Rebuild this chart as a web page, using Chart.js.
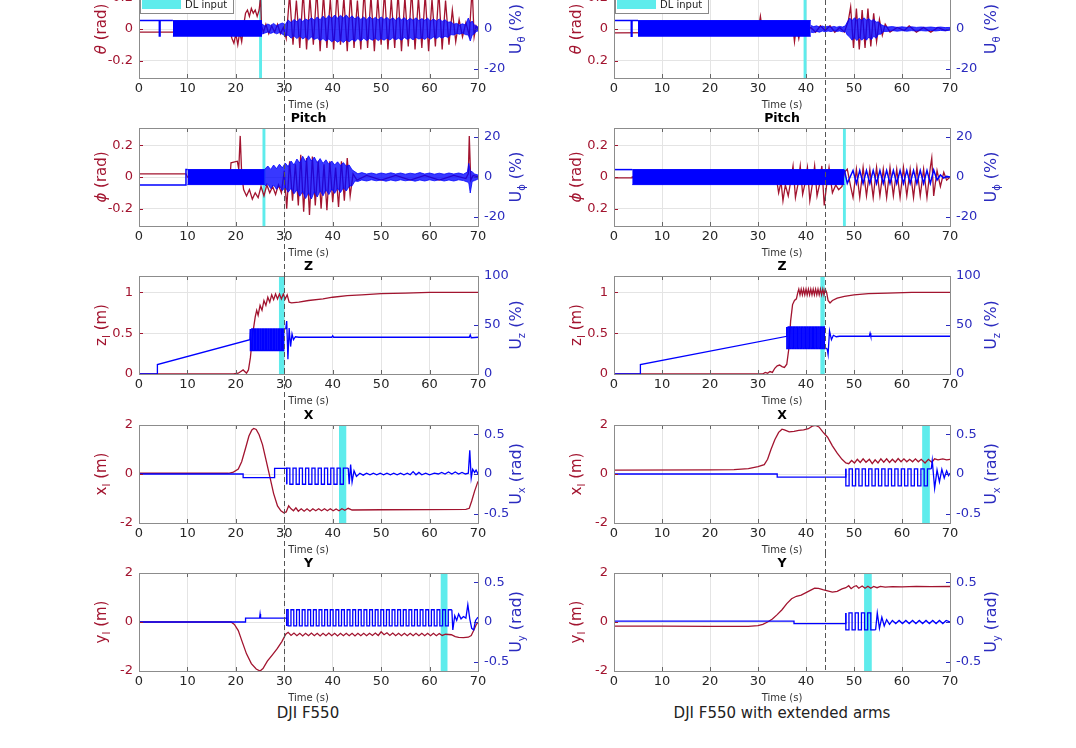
<!DOCTYPE html>
<html>
<head>
<meta charset="utf-8">
<script src="https://cdn.jsdelivr.net/npm/chart.js"></script>
<style>
  body { margin: 0; width: 1076px; height: 748px; overflow: hidden; background: #fff; position: relative; font-family: "DejaVu Sans", sans-serif; }
  canvas { position: absolute; }
  .cap { position: absolute; top: 703px; width: 400px; text-align: center; font: 15px "DejaVu Sans"; line-height: 20px; color: #222; }
</style>
</head>
<body>
<div class="cap" style="left:108px">DJI F550</div>
<div class="cap" style="left:582px">DJI F550 with extended arms</div>
<script>
// --- tick values / labels ---
const radTicks = [-0.2, 0, 0.2];
const radTextL = ['-0.2', '0', '0.2'];
const radTextR = ['0.2', '0', '0.2'];
const pctTicks = [-20, 0, 20];
const zTicks = [0, 0.5, 1];
const uzTicks = [0, 50, 100];
const posTicks = [-2, 0, 2];
const uposTicks = [-0.5, 0, 0.5];

// --- Roll (theta), rad / % ---
const rollRedL = [[0,-0.02],[18.8,-0.02],[19.2,-0.06],[19.6,-0.09],[20,-0.03],[20.4,-0.1],[20.8,-0.02],[21.2,-0.08],[21.6,0.02],[22,0.1],[22.4,0.12],[22.8,0.08],[23.2,0.13],[23.6,0.1],[24,0.12],[24.4,0.08],[24.8,0.12],[25.1,0.2],[25.3,0.02],[25.7,-0.02],[26.2,0.03],[26.8,-0.03],[27.4,0.02],[28,-0.02],[28.6,0.03],[29.2,-0.03],[29.8,0.01],[30.4,-0.06],[31.1,0.22],[31.8,-0.1],[32.5,0.18],[33.2,-0.12],[33.9,0.24],[34.6,-0.13],[35.3,0.2],[36,-0.1],[36.7,0.25],[37.4,-0.14],[38.1,0.22],[38.8,-0.12],[39.5,0.19],[40.2,-0.13],[40.9,0.24],[41.6,-0.1],[42.3,0.2],[43,-0.14],[43.7,0.23],[44.4,-0.12],[45.1,0.18],[45.8,-0.13],[46.5,0.25],[47.2,-0.12],[47.9,0.21],[48.6,-0.14],[49.3,0.2],[50,-0.1],[50.7,0.24],[51.4,-0.13],[52.1,0.19],[52.8,-0.12],[53.5,0.23],[54.2,-0.14],[54.9,0.2],[55.6,-0.11],[56.3,0.25],[57,-0.13],[57.7,0.2],[58.4,-0.12],[59.1,0.22],[59.8,-0.14],[60.5,0.19],[61.2,-0.11],[61.9,0.24],[62.6,-0.13],[63.3,0.18],[64,-0.1],[64.7,0.12],[65.4,-0.08],[66.1,0.06],[66.8,-0.05],[67.5,0.04],[68.2,-0.04],[68.8,0.26],[69.2,-0.05],[69.6,0.02],[70,0]];
const rollBlueL = [[0,4.2],[4.2,4.2],[4.2,-3.5],[4.35,-3.5],[4.35,4.2],[7,4.2]];
const rollBandL = [[7,4.2,-3.6],[25.4,4.2,-3.6]];
const rollOscL = [[25.4,2.5,-2.5],[26,1.5,-2],[26.6,2.5,-1.5],[27.2,1.8,-2.2],[27.8,2.8,-1.6],[28.4,1.6,-2.4],[29,2.4,-1.8],[29.6,3,-2.6],[30.2,2.2,-3.5],[30.8,4.5,-3],[31.4,3.2,-4.6],[32,4.8,-3.4],[32.6,3.6,-4.8],[33.2,5.2,-3.5],[33.8,3.8,-5],[34.4,5,-4],[35,4.2,-5.4],[35.6,5.6,-4],[36.2,4.4,-5.2],[36.8,6,-4.5],[37.4,4.6,-5.8],[38,6.4,-4.8],[38.6,5,-6],[39.2,6.8,-5],[39.8,5.2,-6.4],[40.4,7,-5.4],[41,5.4,-6.6],[41.6,6.8,-5.6],[42.2,5.6,-6.8],[42.8,7,-5.4],[43.4,5.2,-6.4],[44,6.6,-5.2],[44.6,5,-6.2],[45.2,6.2,-4.8],[45.8,4.8,-6],[46.4,6,-4.6],[47,4.6,-5.8],[47.6,6.2,-4.8],[48.2,4.8,-5.6],[48.8,5.8,-4.6],[49.4,4.6,-5.8],[50,6,-4.8],[50.6,4.8,-5.6],[51.2,5.8,-4.5],[51.8,4.5,-5.5],[52.4,5.6,-4.4],[53,4.4,-5.4],[53.6,5.8,-4.6],[54.2,4.6,-5.6],[54.8,5.6,-4.2],[55.4,4.2,-5.2],[56,5.4,-4.4],[56.6,4.4,-5.4],[57.2,5.6,-4.2],[57.8,4.2,-5],[58.4,5.2,-4.4],[59,4.4,-5.2],[59.6,5.4,-4],[60.2,4,-5],[60.8,5,-4],[61.4,4,-4.8],[62,5,-3.8],[62.6,3.8,-4.6],[63.2,4.6,-3.6],[63.8,3.4,-4.2],[64.4,3.6,-2.8],[65,2.4,-3],[65.6,2.8,-2.2],[66.2,2,-2.6],[66.8,2.6,-2],[67.4,2,-2.8],[68,5.5,-3],[68.4,3,-6],[68.8,4,-3],[69.2,2,-2.5],[69.6,1.5,-1.2],[70,1,-1]];

const rollRedR = [[0,-0.025],[30,-0.02],[30.5,0.08],[31,-0.03],[33,-0.01],[36,-0.03],[37.2,0.04],[37.6,-0.08],[38,0.02],[38.5,-0.06],[39,0.03],[40,-0.02],[41,0.01],[42,-0.02],[43,0.02],[44,-0.01],[45,0.02],[46,-0.02],[47,0.01],[48,-0.02],[48.8,0.05],[49.3,0.14],[49.9,-0.12],[50.5,0.13],[51.1,-0.13],[51.7,0.12],[52.3,-0.12],[52.9,0.13],[53.5,-0.11],[54.1,0.1],[54.7,-0.08],[55.3,0.06],[55.9,-0.04],[56.5,0.03],[57.5,-0.02],[59,0.01],[60.5,-0.01],[61.5,0.02],[63,-0.02],[64.5,0.01],[66,-0.02],[67.5,0.01],[69,-0.01],[70,0]];
const rollBlueR = [[0,4.2],[3.6,4.2],[3.6,-3.6],[3.75,-3.6],[3.75,4.2],[5,4.2]];
const rollBandR = [[5,4.2,-3.6],[41,4.2,-3.6]];
const rollOscR = [[41,1.8,-1.6],[41.6,1.2,-1.8],[42.2,1.6,-1.2],[42.8,1,-1.6],[43.4,1.5,-1],[44,1,-1.4],[44.6,1.4,-1],[45.2,0.9,-1.3],[45.8,1.3,-0.9],[46.4,0.9,-1.2],[47,1.3,-1],[47.6,1,-1.4],[48.2,1.6,-1.2],[48.6,3.5,-3],[49.1,5.5,-4],[49.6,4.2,-5.6],[50.1,5.6,-4.4],[50.6,4.4,-5.8],[51.1,5.4,-4.2],[51.6,4.2,-5.6],[52.1,5.6,-4.4],[52.6,4.4,-5.6],[53.1,5.2,-4],[53.6,4,-5.4],[54.1,4.8,-3.6],[54.6,3.4,-4.6],[55.1,3.6,-2.6],[55.6,2.2,-2.6],[56.2,1.6,-1.2],[57,1,-1.2],[58,1.2,-0.8],[59,0.8,-1.1],[60,1.1,-0.8],[61,0.8,-1.1],[62,1.1,-0.8],[63,0.8,-1],[64,1,-0.8],[65,0.8,-1],[66,1,-0.7],[67,0.7,-1],[68,1,-0.7],[69,0.7,-0.9],[70,0.8,-0.6]];

// --- Pitch (phi) ---
const pitchRedL = [[0,0.02],[9.7,0.02],[10,0],[18.8,0],[19,0.09],[20.3,0.1],[20.6,0.05],[20.9,0.26],[21.2,0.02],[21.6,-0.08],[22.2,-0.12],[22.8,-0.08],[23.4,-0.14],[24,-0.1],[24.6,-0.13],[25.2,-0.06],[25.8,-0.12],[26.4,-0.05],[27,-0.1],[27.6,-0.06],[28.2,-0.11],[28.8,-0.05],[29.4,-0.1],[30,0.04],[30.5,-0.2],[31.1,0.1],[31.7,-0.15],[32.3,0.08],[32.9,-0.18],[33.4,0.14],[34,-0.22],[34.6,0.12],[35.2,-0.24],[35.8,0.13],[36.4,-0.18],[37,0.1],[37.6,-0.2],[38.2,0.08],[38.8,-0.21],[39.4,0.1],[40,-0.16],[40.6,0.06],[41.2,-0.19],[41.8,0.1],[42.4,-0.15],[43,0.12],[43.6,-0.12],[44.2,0.02],[45,-0.02],[47,0.01],[50,-0.02],[53,0.01],[56,-0.02],[59,0.01],[62,-0.02],[65,0.01],[67.5,-0.01],[68,0.02],[68.2,0.26],[68.5,-0.02],[69,0.01],[70,0]];
const pitchBlueL = [[0,-4],[9.7,-4],[9.7,3.7],[10,3.7]];
const pitchBandL = [[10,3.7,-3.8],[26,3.7,-3.8]];
const pitchOscL = [[26,4,-4.5],[26.6,5.5,-3.5],[27.2,3.8,-5.8],[27.8,6,-4],[28.4,4.2,-6.2],[29,6.4,-4.4],[29.6,4.6,-6.8],[30.2,7,-5],[30.8,5.2,-7.6],[31.4,8,-5.6],[32,6,-8.4],[32.6,9,-6.4],[33.2,7,-9.6],[33.8,10.4,-7.2],[34.4,7.6,-10.8],[35,10.6,-7.8],[35.6,8,-11],[36.2,10,-7.4],[36.8,7.2,-10],[37.4,9.2,-6.8],[38,6.8,-9.4],[38.6,8.6,-6.4],[39.2,6.4,-8.8],[39.8,8,-6],[40.4,6,-8.2],[41,7.6,-5.6],[41.6,5.8,-7.8],[42.2,7.2,-5.4],[42.8,5.4,-7],[43.4,6,-4.6],[44,3.6,-4.4],[44.6,2.6,-2],[45.2,1.6,-2.2],[46,2.2,-1.5],[47,1.5,-2],[48,2,-1.4],[49,1.4,-1.9],[50,2,-1.5],[51,1.5,-2.1],[52,2.1,-1.5],[53,1.5,-2],[54,2,-1.4],[55,1.4,-1.9],[56,1.9,-1.5],[57,1.5,-2.1],[58,2.2,-1.5],[59,1.5,-2],[60,2,-1.4],[61,1.4,-1.9],[62,1.9,-1.4],[63,1.4,-2],[64,2,-1.5],[65,1.5,-2],[66,2,-1.4],[67,1.4,-1.8],[67.8,2.5,-2.5],[68.1,6.8,-3],[68.4,3,-8],[68.8,2.6,-2.2],[69.3,1.5,-1.8],[70,1,-1]];

const pitchRedR = [[0,-0.005],[3.8,-0.005],[3.8,0],[33.8,0],[34.3,-0.1],[34.8,-0.03],[35.2,-0.15],[35.7,-0.05],[36.3,-0.12],[36.8,-0.03],[37.3,0.07],[37.8,-0.13],[38.3,-0.05],[38.8,0.07],[39.3,-0.11],[39.8,-0.04],[40.3,0.06],[40.8,-0.15],[41.3,-0.05],[41.8,0.07],[42.3,-0.12],[42.8,-0.05],[43.3,0.07],[43.8,-0.18],[44.3,-0.05],[44.8,0.06],[45.5,-0.1],[46.2,-0.05],[46.8,-0.08],[47.5,-0.06],[48,0.03],[48.6,0.05],[49.3,-0.06],[49.8,-0.13],[50.5,0.05],[51.2,-0.13],[51.9,0.06],[52.6,-0.12],[53.3,0.05],[54,-0.13],[54.7,0.06],[55.4,-0.12],[56.1,0.05],[56.8,-0.13],[57.5,0.06],[58.2,-0.12],[58.9,0.05],[59.6,-0.13],[60.3,0.06],[61,-0.12],[61.7,0.05],[62.4,-0.13],[63.1,0.06],[63.8,-0.12],[64.5,0.05],[65.2,-0.13],[65.9,0.06],[66.2,0.12],[66.6,-0.12],[67.3,0.04],[68,-0.06],[68.7,0.03],[69.3,-0.02],[70,0]];
const pitchBlueR = [[0,3.7],[3.8,3.7]];
const pitchBandR = [[3.8,3.7,-3.8],[48,3.7,-3.8]];
const pitchWaveR = [[48,3.5],[48.6,-3.2],[49.8,3.3],[50.5,-3.2],[51.2,3.3],[51.9,-3.2],[52.6,3.3],[53.3,-3.2],[54,3.3],[54.7,-3.2],[55.4,3.3],[56.1,-3.2],[56.8,3.3],[57.5,-3.2],[58.2,3.3],[58.9,-3.2],[59.6,3.3],[60.3,-3.2],[61,3.3],[61.7,-3.2],[62.4,3.3],[63.1,-3.2],[63.8,3.3],[64.5,-3.2],[65.2,3.3],[65.9,-3.2],[66.6,3.5],[67.3,-1.5],[68,1],[68.7,-0.5],[69.3,0.3],[70,0]];

// --- Z, m / % ---
const zRedL = [[0,0],[19.5,0],[20.5,0.01],[21.5,0.05],[22.2,0.01],[22.6,0.05],[23,0.2],[23.5,0.5],[24,0.7],[24.3,0.78],[24.6,0.72],[25,0.84],[25.4,0.78],[25.8,0.9],[26.2,0.84],[26.6,0.94],[27,0.88],[27.4,0.97],[27.8,0.91],[28.2,0.98],[28.6,0.92],[29,0.98],[29.4,0.92],[29.8,0.98],[30.2,0.92],[30.6,0.97],[31,0.88],[31.5,0.87],[33,0.88],[35,0.9],[38,0.92],[40,0.94],[43,0.96],[46,0.97],[50,0.985],[55,0.99],[60,1.0],[65,1.0],[70,1.0]];
const zRampL = [[0,0],[3.8,0],[3.8,9.6],[22.9,35],[23,46]];
const zSqL = [[23,46],[23.28,24],[23.55,46],[23.83,24],[24.1,46],[24.38,24],[24.65,46],[24.93,24],[25.2,46],[25.48,24],[25.75,46],[26.03,24],[26.3,46],[26.58,24],[26.85,46],[27.13,24],[27.4,46],[27.68,24],[27.95,46],[28.23,24],[28.5,46],[28.78,24],[29.05,46],[29.33,24],[29.6,46],[29.88,24],[30.15,46],[30.3,46]];
const zRingL = [[30.3,46],[30.5,54],[30.75,15],[31,47],[31.3,28],[31.6,41],[31.9,35],[32.3,38],[33,37.5],[39.8,37.5],[40,39],[40.2,37.5],[68.2,37.5],[68.4,40],[68.6,37],[70,37.5]];

const zRedR = [[0,0],[31,0],[31.5,0.02],[32,0.01],[32.5,0.03],[33,0.02],[33.5,0.07],[34,0.1],[34.5,0.11],[35,0.09],[35.5,0.08],[36,0.12],[36.4,0.3],[36.8,0.65],[37.2,0.85],[37.6,0.9],[38,0.92],[38.3,1.0],[38.5,1.04],[38.75,0.97],[39,1.04],[39.25,0.97],[39.5,1.04],[39.75,0.97],[40,1.04],[40.25,0.97],[40.5,1.04],[40.75,0.97],[41,1.04],[41.25,0.97],[41.5,1.04],[41.75,0.97],[42,1.04],[42.25,0.97],[42.5,1.04],[42.75,0.97],[43,1.04],[43.25,0.97],[43.5,1.04],[43.75,0.97],[44,1.04],[44.3,1.0],[44.6,0.9],[45,0.87],[45.5,0.9],[46.5,0.93],[48,0.95],[50,0.97],[53,0.985],[57,0.99],[62,1.0],[70,1.0]];
const zRampR = [[0,0],[5.5,0],[5.5,9.6],[36,38.5],[36,48]];
const zSqR = [[36,48],[36.28,26],[36.56,48],[36.84,26],[37.12,48],[37.4,26],[37.68,48],[37.96,26],[38.24,48],[38.52,26],[38.8,48],[39.08,26],[39.36,48],[39.64,26],[39.92,48],[40.2,26],[40.48,48],[40.76,26],[41.04,48],[41.32,26],[41.6,48],[41.88,26],[42.16,48],[42.44,26],[42.72,48],[43,26],[43.28,48],[43.56,26],[43.84,48],[44.12,26],[44.4,26]];
const zRingR = [[44.4,26],[44.6,20],[44.9,44],[45.3,35],[45.7,39.5],[46.3,38],[47,38.5],[53.2,38.5],[53.35,41.5],[53.5,38.5],[70,38.5]];

// --- X, m / rad ---
const xRedL = [[0,0.03],[18.5,0.03],[19.5,0.08],[20.5,0.2],[21.2,0.5],[22,1.05],[22.7,1.55],[23.3,1.8],[23.7,1.86],[24.2,1.82],[24.8,1.6],[25.5,1.2],[26.2,0.6],[27,-0.1],[27.8,-0.8],[28.6,-1.3],[29.3,-1.5],[29.9,-1.58],[30.4,-1.55],[30.9,-1.3],[31.4,-1.42],[31.9,-1.5],[32.4,-1.38],[32.9,-1.52],[33.5,-1.42],[34.1,-1.52],[34.7,-1.42],[35.3,-1.52],[35.9,-1.42],[36.5,-1.5],[37.1,-1.42],[37.7,-1.5],[38.3,-1.42],[38.9,-1.5],[39.5,-1.42],[40.1,-1.5],[40.7,-1.43],[41.3,-1.5],[41.9,-1.42],[42.5,-1.48],[43.2,-1.4],[44,-1.47],[50,-1.46],[60,-1.45],[67.5,-1.44],[68.2,-1.4],[68.7,-1.1],[69.3,-0.7],[70,-0.3]];
const xBlueL = [[0,0],[21.5,0],[21.5,-0.045],[28,-0.045],[28,0.07],[30.5,0.07],[30.5,-0.13]];
const xSqL = [[30.5,-0.13],[31.15,0.075],[31.8,-0.13],[32.45,0.075],[33.1,-0.13],[33.75,0.075],[34.4,-0.13],[35.05,0.075],[35.7,-0.13],[36.35,0.075],[37,-0.13],[37.65,0.075],[38.3,-0.13],[38.95,0.075],[39.6,-0.13],[40.25,0.075],[40.9,-0.13],[41.55,0.075],[42.2,-0.13],[42.85,0.075],[43.2,0.075]];
const xRingL = [[43.2,0.075],[43.4,-0.13],[43.7,0.12],[44,-0.1],[44.4,0.04],[44.9,-0.03],[45.6,0.01],[46.3,-0.015],[47,0.01],[47.7,-0.01],[48.4,0.01],[49.1,-0.01],[49.8,0.01],[50.5,-0.01],[51.2,0.01],[51.9,-0.01],[52.6,0.01],[53.3,-0.01],[54,0.01],[54.7,-0.01],[55.4,0.01],[56,-0.01],[56.6,0.03],[57.2,-0.01],[57.8,0.02],[58.4,-0.01],[59.2,0.01],[60,-0.01],[61,0.01],[61.8,0],[62.5,0.02],[63.2,0],[63.9,0.025],[64.6,0],[65.3,0.025],[66,0],[66.7,0.02],[67.4,0],[68,0.01],[68.3,0.3],[68.6,-0.05],[68.9,0.06],[69.3,0.02],[69.6,0.05],[70,0]];

const xRedR = [[0,0.16],[20,0.17],[25,0.18],[28,0.22],[30,0.3],[31.3,0.38],[32,0.6],[32.7,1.0],[33.5,1.4],[34.3,1.7],[35,1.83],[35.5,1.8],[36.5,1.72],[37.5,1.74],[38.5,1.78],[39.5,1.8],[40.5,1.85],[41.3,1.95],[42,1.98],[42.7,1.92],[43.5,1.72],[44.5,1.5],[45.5,1.15],[46.5,0.85],[47.5,0.6],[48.3,0.45],[48.9,0.42],[49.5,0.55],[50.1,0.45],[50.7,0.6],[51.3,0.47],[51.9,0.62],[52.5,0.48],[53.2,0.6],[53.8,0.42],[54.4,0.58],[55,0.45],[55.6,0.62],[56.2,0.48],[56.8,0.62],[57.4,0.47],[58,0.6],[58.6,0.48],[59.2,0.63],[59.8,0.5],[60.4,0.62],[61,0.5],[61.6,0.6],[62.2,0.5],[62.8,0.62],[63.4,0.5],[64,0.6],[64.8,0.45],[65.5,0.6],[66.2,0.48],[66.8,0.62],[67.5,0.58],[68.5,0.62],[69.3,0.58],[70,0.6]];
const xBlueR = [[0,0],[34,0],[34,-0.04],[48.3,-0.04],[48.3,0.065]];
const xSqR = [[48.3,0.065],[48.98,-0.15],[49.66,0.065],[50.34,-0.15],[51.02,0.065],[51.7,-0.15],[52.38,0.065],[53.06,-0.15],[53.74,0.065],[54.42,-0.15],[55.1,0.065],[55.78,-0.15],[56.46,0.065],[57.14,-0.15],[57.82,0.065],[58.5,-0.15],[59.18,0.065],[59.86,-0.15],[60.54,0.065],[61.22,-0.15],[61.9,0.065],[62.58,-0.15],[63.26,0.065],[63.94,-0.15],[64.62,0.065],[65.3,-0.15],[65.98,0.065],[66.1,0.065]];
const xRingR = [[66.1,0.065],[66.3,0.17],[66.8,-0.18],[67.3,0.05],[67.8,-0.1],[68.3,0.06],[68.8,-0.05],[69.3,0.04],[69.7,-0.02],[70,0.01]];

// --- Y, m / rad ---
const yRedL = [[0,0],[19,0],[19.7,-0.1],[20.5,-0.35],[21.3,-0.8],[22.2,-1.3],[23.2,-1.7],[24.2,-1.92],[25,-2.0],[25.6,-1.9],[26.5,-1.6],[27.5,-1.35],[28.5,-1.1],[29.5,-0.8],[30.3,-0.5],[30.8,-0.42],[31.4,-0.55],[32,-0.45],[32.6,-0.56],[33.2,-0.46],[33.8,-0.57],[34.4,-0.46],[35,-0.56],[35.6,-0.45],[36.2,-0.56],[36.8,-0.46],[37.4,-0.57],[38,-0.46],[38.6,-0.56],[39.2,-0.45],[39.8,-0.56],[40.4,-0.46],[41,-0.57],[41.6,-0.46],[42.2,-0.56],[42.8,-0.46],[43.4,-0.56],[44,-0.46],[44.6,-0.57],[45.2,-0.46],[45.8,-0.56],[46.4,-0.46],[47,-0.56],[47.6,-0.46],[48.2,-0.55],[48.8,-0.45],[49.4,-0.55],[50,-0.4],[50.6,-0.52],[51.2,-0.44],[51.8,-0.55],[52.4,-0.45],[53,-0.56],[53.6,-0.46],[54.2,-0.56],[54.8,-0.46],[55.4,-0.56],[56,-0.46],[56.6,-0.56],[57.2,-0.46],[57.8,-0.56],[58.4,-0.46],[59,-0.56],[59.6,-0.46],[60.2,-0.56],[60.8,-0.46],[61.4,-0.56],[62,-0.47],[62.6,-0.55],[63.3,-0.5],[64.5,-0.52],[65.3,-0.6],[66,-0.63],[67,-0.64],[68,-0.62],[68.6,-0.55],[69.1,-0.35],[69.6,-0.12],[70,0]];
const yBlueL = [[0,0],[22,0],[22,0.05],[24.9,0.05],[25,0.1],[25.1,0.05],[30.5,0.05],[30.5,-0.05]];
const ySqL = [[30.5,-0.05],[30.8,0.155],[31.38,-0.05],[31.96,0.155],[32.54,-0.05],[33.12,0.155],[33.7,-0.05],[34.28,0.155],[34.86,-0.05],[35.44,0.155],[36.02,-0.05],[36.6,0.155],[37.18,-0.05],[37.76,0.155],[38.34,-0.05],[38.92,0.155],[39.5,-0.05],[40.08,0.155],[40.66,-0.05],[41.24,0.155],[41.82,-0.05],[42.4,0.155],[42.98,-0.05],[43.56,0.155],[44.14,-0.05],[44.72,0.155],[45.3,-0.05],[45.88,0.155],[46.46,-0.05],[47.04,0.155],[47.62,-0.05],[48.2,0.155],[48.78,-0.05],[49.36,0.155],[49.94,-0.05],[50.52,0.155],[51.1,-0.05],[51.68,0.155],[52.26,-0.05],[52.84,0.155],[53.42,-0.05],[54,0.155],[54.58,-0.05],[55.16,0.155],[55.74,-0.05],[56.32,0.155],[56.9,-0.05],[57.48,0.155],[58.06,-0.05],[58.64,0.155],[59.22,-0.05],[59.8,0.155],[60.38,-0.05],[60.96,0.155],[61.54,-0.05],[62.12,0.155],[62.7,-0.05],[63.28,0.155],[63.86,-0.05],[64.44,0.155],[64.6,0.155]];
const yRingL = [[64.6,0.155],[64.8,-0.1],[65.2,0.08],[65.6,0.02],[66,0.1],[66.5,0.04],[67,0.07],[67.5,0.05],[67.9,0.22],[68.3,0.04],[68.7,-0.08],[69.1,-0.1],[69.5,0.02],[70,0.06]];

const yRedR = [[0,-0.17],[10,-0.17],[20,-0.18],[28,-0.18],[30,-0.15],[31,-0.1],[32,0.0],[33,0.12],[34,0.3],[35,0.5],[36,0.75],[37,0.95],[38,1.05],[39,1.1],[40,1.2],[41,1.3],[41.8,1.38],[42.6,1.37],[43.5,1.32],[44.5,1.27],[45.5,1.22],[46.5,1.25],[47.5,1.35],[48.3,1.4],[48.9,1.48],[49.4,1.36],[50,1.45],[50.5,1.48],[51,1.38],[51.7,1.47],[52.3,1.38],[52.9,1.46],[53.5,1.38],[54.1,1.45],[54.8,1.4],[55.5,1.45],[56.5,1.42],[58,1.44],[60,1.43],[63,1.45],[66,1.44],[70,1.45]];
const yBlueR = [[0,0.01],[37.5,0.01],[37.5,-0.02],[48.3,-0.02],[48.3,0.115]];
const ySqR = [[48.3,0.115],[48.95,-0.1],[49.6,0.115],[50.25,-0.1],[50.9,0.115],[51.55,-0.1],[52.2,0.115],[52.85,-0.1],[53.5,0.115],[54.15,-0.1],[54.5,-0.1]];
const yRingR = [[54.5,-0.1],[54.85,0.115],[55.3,-0.08],[55.8,0.06],[56.3,-0.05],[56.8,0.03],[57.4,-0.03],[58,0.02],[58.7,-0.02],[59.4,0.02],[60.1,-0.02],[60.8,0.02],[61.5,-0.02],[62.2,0.02],[62.9,-0.02],[63.6,0.02],[64.3,-0.02],[65,0.02],[65.7,-0.02],[66.4,0.02],[67.1,-0.02],[67.8,0.02],[68.5,-0.02],[69.2,0.02],[70,0]];

// DL input windows (s) and the dashed marker per column
const dlInputL = [[24.8,25.4],[25.5,26.1],[28.9,30.0],[41.3,42.8],[62.3,63.7]];
const dlInputR = [[39.5,40.1],[47.7,48.3],[43.0,43.9],[64.2,65.8],[52.1,53.7]];
const markerT = [30, 44];

// ---------------------------------------------------------------
const RED = '#a2142f';
const BLUE = '#0000ff';
const BTICK = '#2b2bbf';
const GRID = '#e4e4e4';
const BOX = '#8c8c8c';
const CYAN = '#5eecec';
const OSC = 'rgba(0,0,255,0.78)';
const FONT = '"DejaVu Sans"';

Chart.defaults.font.family = FONT;

const cols = [{left: 80, wL: 59, wR: 82, rOff: 39}, {left: 556, wL: 58, wR: 86, rOff: 42}];
const plotTops = [-20, 128, 276, 425, 573];

const rowDefs = [
  {title: 'Roll', yL: [-0.31, 0.31], tL: radTicks, yR: [-24.5, 24.5], tR: pctTicks,
   labL: [['θ', 'i'], [' (rad)']], labR: [['U'], ['θ', 'sub'], [' (%)']]},
  {title: 'Pitch', yL: [-0.31, 0.31], tL: radTicks, yR: [-24.5, 24.5], tR: pctTicks,
   labL: [['ϕ', 'i'], [' (rad)']], labR: [['U'], ['ϕ', 'sub'], [' (%)']]},
  {title: 'Z', yL: [0, 1.2], tL: zTicks, yR: [0, 100], tR: uzTicks,
   labL: [['z'], ['I', 'sub'], [' (m)']], labR: [['U'], ['z', 'sub'], [' (%)']]},
  {title: 'X', yL: [-2, 2], tL: posTicks, yR: [-0.62, 0.62], tR: uposTicks,
   labL: [['x'], ['I', 'sub'], [' (m)']], labR: [['U'], ['x', 'sub'], [' (rad)']]},
  {title: 'Y', yL: [-2, 2], tL: posTicks, yR: [-0.62, 0.62], tR: uposTicks,
   labL: [['y'], ['I', 'sub'], [' (m)']], labR: [['U'], ['y', 'sub'], [' (rad)']]}
];

// series per panel [col][row]
const series = [
  [
    {red: rollRedL, lines: [rollBlueL], steps: [], bands: [[rollBandL, BLUE], [rollOscL, OSC]], textL: radTextL},
    {red: pitchRedL, lines: [pitchBlueL], steps: [], bands: [[pitchBandL, BLUE], [pitchOscL, OSC]], textL: radTextL},
    {red: zRedL, lines: [zRampL, zRingL], steps: [zSqL], bands: []},
    {red: xRedL, lines: [xBlueL, xRingL], steps: [xSqL], bands: []},
    {red: yRedL, lines: [yBlueL, yRingL], steps: [ySqL], bands: []}
  ],
  [
    {red: rollRedR, lines: [rollBlueR], steps: [], bands: [[rollBandR, BLUE], [rollOscR, OSC]], textL: radTextR},
    {red: pitchRedR, lines: [pitchBlueR, pitchWaveR], steps: [], bands: [[pitchBandR, BLUE]], textL: radTextR},
    {red: zRedR, lines: [zRampR, zRingR], steps: [zSqR], bands: []},
    {red: xRedR, lines: [xBlueR, xRingR], steps: [xSqR], bands: []},
    {red: yRedR, lines: [yBlueR, yRingR], steps: [ySqR], bands: []}
  ]
];

function pts(a) { return a.map(p => ({x: p[0], y: p[1]})); }

// rotated axis label with optional italic / subscript parts
function drawAxisLabel(ctx, x, y, parts, color, size) {
  ctx.save();
  ctx.translate(x, y);
  ctx.rotate(-Math.PI / 2);
  ctx.fillStyle = color;
  ctx.textBaseline = 'middle';
  ctx.textAlign = 'left';
  const fonts = parts.map(pt => {
    if (pt[1] === 'sub') return Math.round(size * 0.65) + 'px ' + FONT;
    if (pt[1] === 'i') return 'italic ' + size + 'px ' + FONT;
    return size + 'px ' + FONT;
  });
  let w = 0;
  parts.forEach((pt, i) => { ctx.font = fonts[i]; w += ctx.measureText(pt[0]).width; });
  let cx = -w / 2;
  parts.forEach((pt, i) => {
    ctx.font = fonts[i];
    ctx.fillText(pt[0], cx, pt[1] === 'sub' ? size * 0.35 : 0);
    cx += ctx.measureText(pt[0]).width;
  });
  ctx.restore();
}

function makeDecor(c, r) {
  const def = rowDefs[r];
  const dl = (c === 0 ? dlInputL : dlInputR)[r];
  return {
    id: 'decor',
    beforeDatasetsDraw(chart) {
      const {ctx, chartArea: a, scales} = chart;
      const x0 = scales.x.getPixelForValue(dl[0]);
      const x1 = scales.x.getPixelForValue(dl[1]);
      ctx.save();
      ctx.fillStyle = CYAN;
      ctx.fillRect(x0, a.top, Math.max(x1 - x0, 2), a.bottom - a.top);
      ctx.restore();
    },
    afterDatasetsDraw(chart) {
      const {ctx, chartArea: a, scales} = chart;
      ctx.save();
      // tick marks (inward)
      ctx.lineWidth = 1;
      ctx.strokeStyle = '#666';
      scales.x.ticks.forEach(t => {
        const px = Math.round(scales.x.getPixelForValue(t.value)) + 0.5;
        ctx.beginPath();
        ctx.moveTo(px, a.bottom); ctx.lineTo(px, a.bottom - 4);
        ctx.moveTo(px, a.top); ctx.lineTo(px, a.top + 4);
        ctx.stroke();
      });
      ctx.strokeStyle = RED;
      scales.yL.ticks.forEach(t => {
        const py = Math.round(scales.yL.getPixelForValue(t.value)) + 0.5;
        ctx.beginPath(); ctx.moveTo(a.left, py); ctx.lineTo(a.left + 4, py); ctx.stroke();
      });
      ctx.strokeStyle = BTICK;
      scales.yR.ticks.forEach(t => {
        const py = Math.round(scales.yR.getPixelForValue(t.value)) + 0.5;
        ctx.beginPath(); ctx.moveTo(a.right, py); ctx.lineTo(a.right - 4, py); ctx.stroke();
      });
      // box
      ctx.strokeStyle = BOX;
      ctx.strokeRect(Math.round(a.left) + 0.5, Math.round(a.top) + 0.5,
        Math.round(a.right - a.left), Math.round(a.bottom - a.top));
      // dashed marker line
      const dx = Math.round(scales.x.getPixelForValue(markerT[c])) + 0.5;
      ctx.strokeStyle = '#555';
      ctx.setLineDash([5, 3]);
      ctx.beginPath();
      ctx.moveTo(dx, 0);
      ctx.lineTo(dx, r === 4 ? a.bottom : chart.height);
      ctx.stroke();
      ctx.setLineDash([]);
      // panel title
      ctx.fillStyle = '#000';
      ctx.font = 'bold 12.5px ' + FONT;
      ctx.textAlign = 'center';
      ctx.textBaseline = 'middle';
      ctx.fillText(def.title, (a.left + a.right) / 2, a.top - 9);
      // legend
      if (r === 0) {
        ctx.fillStyle = '#fff';
        ctx.fillRect(a.left + 1, a.top + 2, 93, 31);
        ctx.strokeStyle = '#888';
        ctx.strokeRect(a.left + 1.5, a.top + 2.5, 93, 31);
        ctx.fillStyle = CYAN;
        ctx.fillRect(a.left + 3, a.top + 20, 39, 9);
        ctx.fillStyle = '#222';
        ctx.font = '10px ' + FONT;
        ctx.textAlign = 'left';
        ctx.fillText('DL input', a.left + 46, a.top + 25);
      }
      // axis titles
      const cy = (a.top + a.bottom) / 2;
      drawAxisLabel(ctx, a.left - 37, cy, def.labL, RED, 15);
      drawAxisLabel(ctx, a.right + cols[c].rOff, cy, def.labR, BTICK, 16);
      ctx.restore();
    }
  };
}

function makePanel(c, r) {
  const col = cols[c];
  const def = rowDefs[r];
  const s = series[c][r];
  const canvas = document.createElement('canvas');
  canvas.width = 480;
  canvas.height = 151;
  canvas.style.left = col.left + 'px';
  canvas.style.top = (plotTops[r] - 20) + 'px';
  document.body.appendChild(canvas);

  const bw = r < 2 ? 1.5 : 1.3;
  const datasets = [];
  s.lines.forEach(a => datasets.push({data: pts(a), yAxisID: 'yR', borderColor: BLUE, borderWidth: bw}));
  s.steps.forEach(a => datasets.push({data: pts(a), yAxisID: 'yR', borderColor: BLUE, borderWidth: bw, stepped: 'after'}));
  s.bands.forEach(([b, colr]) => {
    datasets.push({data: b.map(q => ({x: q[0], y: q[1]})), yAxisID: 'yR', borderColor: colr, backgroundColor: colr, borderWidth: 1, fill: '+1'});
    datasets.push({data: b.map(q => ({x: q[0], y: q[2]})), yAxisID: 'yR', borderColor: colr, borderWidth: 1, fill: false});
  });
  datasets.push({data: pts(s.red), yAxisID: 'yL', borderColor: RED, borderWidth: 1.3});

  const textL = s.textL || def.tL.map(v => String(v));

  new Chart(canvas, {
    type: 'line',
    data: {datasets},
    options: {
      responsive: false,
      animation: false,
      events: [],
      layout: {padding: {top: 20, left: 0, right: 0, bottom: 0}},
      elements: {point: {radius: 0}, line: {tension: 0}},
      plugins: {legend: {display: false}, tooltip: {enabled: false}},
      scales: {
        x: {
          type: 'linear', position: 'bottom', min: 0, max: 70,
          ticks: {stepSize: 10, color: '#262626', font: {size: 13}, padding: 3, maxRotation: 0, autoSkip: false},
          grid: {color: GRID, drawTicks: false},
          border: {display: false},
          title: {display: true, text: 'Time (s)', color: '#333', font: {size: 10}, padding: {top: 0, bottom: 0}},
          afterFit: sc => { sc.height = 33; }
        },
        yL: {
          position: 'left', min: def.yL[0], max: def.yL[1],
          afterBuildTicks: sc => { sc.ticks = def.tL.map(v => ({value: v})); },
          ticks: {color: RED, font: {size: 13}, padding: 6, callback: (v, i) => textL[i]},
          grid: {color: GRID, drawTicks: false},
          border: {display: false},
          afterFit: sc => { sc.width = col.wL; }
        },
        yR: {
          position: 'right', min: def.yR[0], max: def.yR[1],
          afterBuildTicks: sc => { sc.ticks = def.tR.map(v => ({value: v})); },
          ticks: {color: BTICK, font: {size: 13}, padding: 6},
          grid: {drawOnChartArea: false, drawTicks: false},
          border: {display: false},
          afterFit: sc => { sc.width = col.wR; }
        }
      }
    },
    plugins: [makeDecor(c, r)]
  });
}

for (let c = 0; c < 2; c++) {
  for (let r = 0; r < 5; r++) makePanel(c, r);
}
</script>
</body>
</html>
